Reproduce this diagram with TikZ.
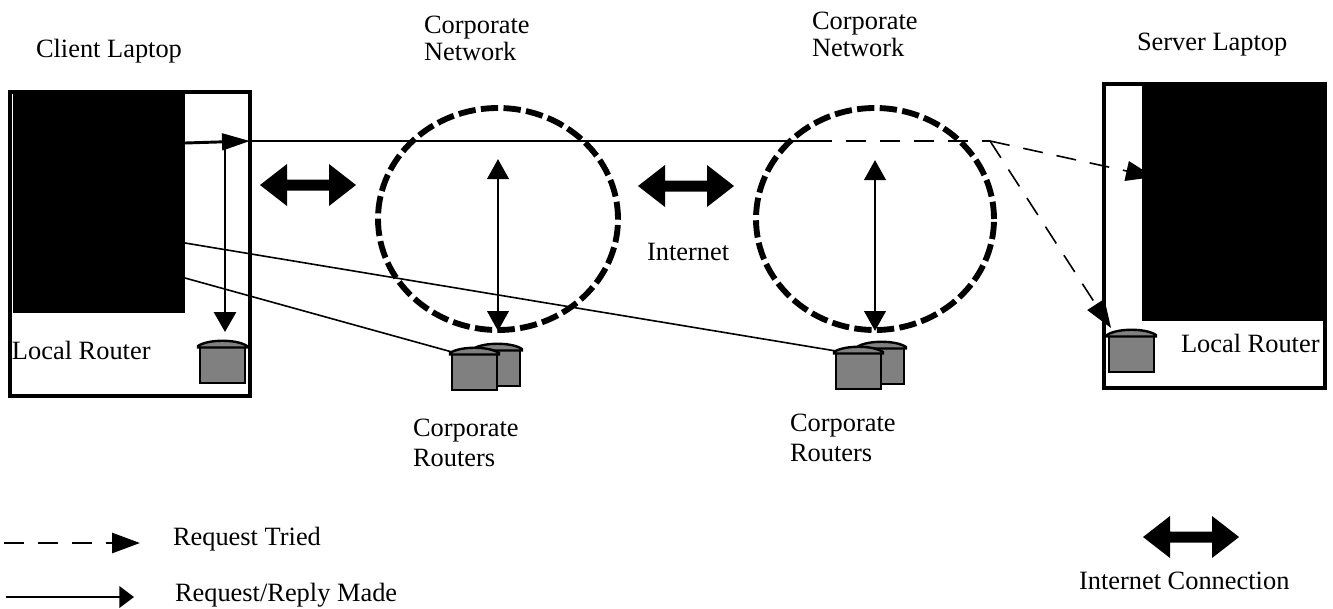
\documentclass[tikz,border=0pt]{standalone}
\usepackage{fontspec}
\setmainfont{Liberation Serif}
\usetikzlibrary{arrows.meta,shapes.geometric}
\definecolor{routergray}{HTML}{808080}
\tikzset{
  x=0.75pt,y=-0.75pt,
  lbl/.style={inner sep=0pt,outer sep=0pt,anchor=base west,font=\fontsize{19.8}{24}\selectfont},
  panel/.style={draw=black,line width=2.5pt,fill=white,inner sep=0pt,outer sep=0pt,anchor=north west},
  blackout/.style={fill=black,inner sep=0pt,outer sep=0pt,anchor=north west},
  netring/.style={draw=black,line width=4.4pt,ellipse,inner sep=0pt,outer sep=0pt,dash pattern=on 13pt off 4pt},
  solidline/.style={line width=2.2pt},
  thinline/.style={line width=1.2pt},
  triedline/.style={line width=2.2pt,dash pattern=on 15pt off 10.5pt},
  triedthin/.style={line width=1.2pt,dash pattern=on 15pt off 10.5pt},
  fwdtip/.style={-{Triangle[length=21pt,width=12.5pt]}},
  downtip/.style={-{Triangle[length=15pt,width=16.5pt]}},
  bothtip/.style={{Triangle[length=15pt,width=16pt]}-{Triangle[length=15pt,width=16pt]}},
  triedtip/.style={-{Triangle[length=21pt,width=15pt]}},
  madetip/.style={-{Triangle[length=11pt,width=16pt]}},
  router/.pic={
    \draw[black,line width=1.8pt,fill=routergray] (0,0) rectangle (45,37);
    \draw[black,line width=1.8pt,fill=routergray] (-2,0) .. controls (8,-7) and (37,-7) .. (47,0) -- (47,1.5) -- (-2,1.5) -- cycle;
  },
  bigarrow/.pic={
    \fill[black] (-48,0) -- (-21,-21) -- (-21,-5.5) -- (21,-5.5) -- (21,-21) -- (48,0) -- (21,21) -- (21,5.5) -- (-21,5.5) -- (-21,21) -- cycle;
  }
}
\begin{document}
\begin{tikzpicture}
\useasboundingbox (0,0) rectangle (1333,608);

% laptops
\node[panel,minimum width=240*0.75pt,minimum height=304*0.75pt] (clientbox) at (10,92) {};
\node[panel,minimum width=221*0.75pt,minimum height=304*0.75pt] (serverbox) at (1104,84) {};

% network rings
\node[netring,minimum width=240*0.75pt,minimum height=222*0.75pt] (ringa) at (498,219) {};
\node[netring,minimum width=238*0.75pt,minimum height=222*0.75pt] (ringb) at (875,219) {};

% routers
\pic at (200,346) {router};
\pic at (475,349) {router};
\pic at (452,353) {router};
\pic at (859,347) {router};
\pic at (836,352) {router};
\pic at (1109,335) {router};

% connector ends
\coordinate (clientout) at (185,143);
\coordinate (lineend) at (250,141);
\coordinate (solidend) at (812,141);
\coordinate (branch) at (990,141);
\coordinate (servertip) at (1154,177);
\coordinate (srvroutertip) at (1111,328);
\coordinate (downstart) at (225,143);
\coordinate (downtipend) at (225,332);
\coordinate (aup) at (498,159);
\coordinate (adown) at (498,331);
\coordinate (bup) at (875,160);
\coordinate (bdown) at (875,331);
\coordinate (clienta) at (185,243);
\coordinate (routerb) at (836,351);
\coordinate (clientb) at (185,278);
\coordinate (routera) at (452,352);
\coordinate (legaa) at (4,543);
\coordinate (legab) at (140,543);
\coordinate (legba) at (6,597);
\coordinate (legbb) at (134,597);

% connectors
\draw[thinline] (clienta) -- (routerb);
\draw[thinline] (clientb) -- (routera);
\draw[solidline,fwdtip] (clientout) -- (lineend);
\draw[solidline] (lineend) -- (solidend);
\draw[triedline] (solidend) -- (branch);
\draw[triedthin,triedtip] (branch) -- (servertip);
\draw[triedthin,triedtip] (branch) -- (srvroutertip);
\draw[solidline,downtip] (downstart) -- (downtipend);
\draw[solidline,bothtip] (aup) -- (adown);
\draw[solidline,bothtip] (bup) -- (bdown);

% screens
\node[blackout,minimum width=172.5*0.75pt,minimum height=221*0.75pt] (clientscreen) at (12.7,91.7) {};
\node[blackout,minimum width=181*0.75pt,minimum height=237*0.75pt] (serverscreen) at (1142,84) {};

% internet connection arrows
\pic at (308,185) {bigarrow};
\pic at (686,186) {bigarrow};
\pic at (1191,537) {bigarrow};

% legend
\draw[triedline,triedtip] (legaa) -- (legab);
\draw[solidline,madetip] (legba) -- (legbb);

% labels
\node[lbl] (t1) at (36,57) {Client Laptop};
\node[lbl] (t2) at (424,33) {Corporate};
\node[lbl] (t3) at (424,60) {Network};
\node[lbl] (t4) at (812,29) {Corporate};
\node[lbl] (t5) at (812,56) {Network};
\node[lbl] (t6) at (1137,50) {Server Laptop};
\node[lbl] (t7) at (12,359) {Local Router};
\node[lbl] (t8) at (1181,352) {Local Router};
\node[lbl] (t9) at (647,260) {Internet};
\node[lbl] (t10) at (413,436) {Corporate};
\node[lbl] (t11) at (413,466) {Routers};
\node[lbl] (t12) at (790,431) {Corporate};
\node[lbl] (t13) at (790,461) {Routers};
\node[lbl] (t14) at (173,545) {Request Tried};
\node[lbl] (t15) at (175,601) {Request/Reply Made};
\node[lbl] (t16) at (1079,589) {Internet Connection};
\end{tikzpicture}
\end{document}
